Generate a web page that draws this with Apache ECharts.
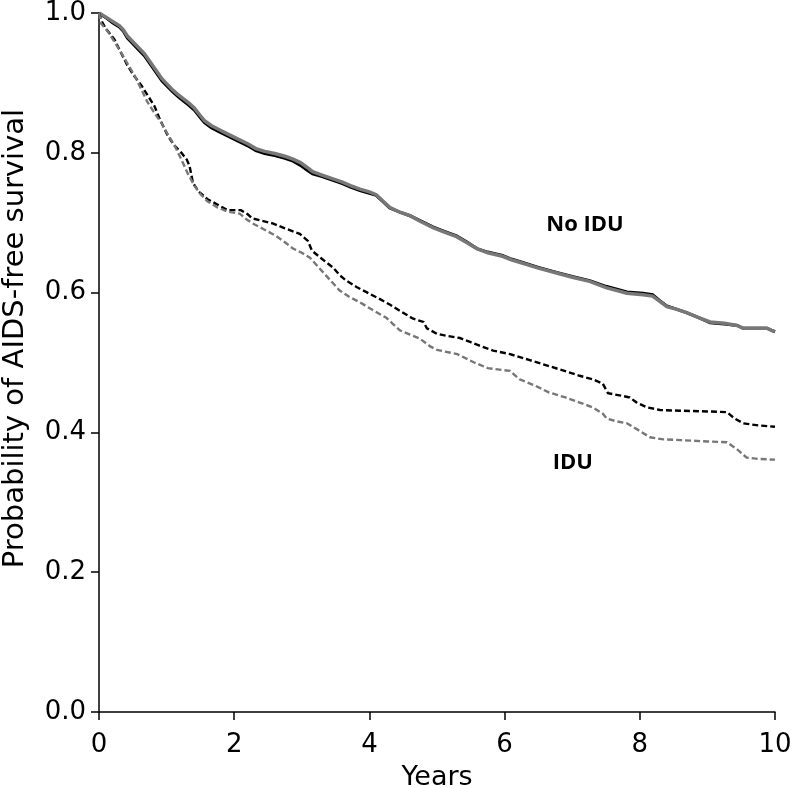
<!DOCTYPE html>
<html>
<head>
<meta charset="utf-8">
<script src="https://cdn.jsdelivr.net/npm/echarts@6/dist/echarts.min.js"></script>
<style>html,body{margin:0;padding:0;background:#fff;}#c{width:792px;height:788px;}</style>
</head>
<body>
<div id="c"></div>
<script>
// Years (x) and probability (y) pairs
const noIduBlack = [
[0,1.000],[0.04,0.997],[0.12,0.992],[0.2,0.986],[0.3,0.980],[0.36,0.974],[0.42,0.964],[0.5,0.956],[0.58,0.948],[0.67,0.939],
[0.75,0.928],[0.83,0.917],[0.93,0.903],[1.0,0.896],[1.08,0.888],[1.16,0.881],[1.25,0.874],[1.33,0.868],[1.41,0.861],[1.5,0.850],
[1.56,0.843],[1.66,0.836],[1.78,0.830],[1.9,0.824],[2.05,0.817],[2.2,0.810],[2.32,0.803],[2.45,0.799],[2.6,0.796],[2.75,0.792],
[2.87,0.788],[2.98,0.782],[3.08,0.775],[3.16,0.770],[3.3,0.766],[3.45,0.761],[3.6,0.756],[3.72,0.751],[3.86,0.746],[4.0,0.742],
[4.1,0.739],[4.2,0.730],[4.3,0.721],[4.45,0.715],[4.6,0.710],[4.75,0.703],[4.94,0.694],[5.1,0.688],[5.29,0.681],[5.45,0.672],
[5.59,0.663],[5.75,0.658],[5.97,0.653],[6.1,0.648],[6.27,0.643],[6.5,0.636],[6.77,0.629],[7.0,0.623],[7.26,0.617],[7.5,0.609],
[7.81,0.601],[8.05,0.599],[8.19,0.597],[8.3,0.588],[8.4,0.581],[8.55,0.576],[8.7,0.571],[8.88,0.564],[9.04,0.557],[9.25,0.555],
[9.44,0.553],[9.53,0.549],[9.88,0.549],[9.95,0.546],[10,0.544]
];
const noIduGray = [
[0,1.000],[0.04,0.998],[0.12,0.993],[0.2,0.988],[0.3,0.982],[0.36,0.976],[0.42,0.967],[0.5,0.959],[0.58,0.951],[0.67,0.942],
[0.75,0.931],[0.83,0.920],[0.93,0.906],[1.0,0.899],[1.08,0.891],[1.16,0.884],[1.25,0.877],[1.33,0.871],[1.41,0.864],[1.5,0.853],
[1.56,0.846],[1.66,0.839],[1.78,0.833],[1.9,0.827],[2.05,0.820],[2.2,0.813],[2.32,0.806],[2.45,0.802],[2.6,0.799],[2.75,0.795],
[2.87,0.791],[2.98,0.786],[3.08,0.779],[3.16,0.773],[3.3,0.768],[3.45,0.763],[3.6,0.758],[3.72,0.753],[3.86,0.748],[4.0,0.744],
[4.1,0.740],[4.2,0.731],[4.3,0.722],[4.45,0.715],[4.6,0.710],[4.75,0.702],[4.94,0.693],[5.1,0.687],[5.29,0.680],[5.45,0.671],
[5.59,0.663],[5.75,0.657],[5.97,0.652],[6.1,0.647],[6.27,0.642],[6.5,0.635],[6.77,0.628],[7.0,0.622],[7.26,0.616],[7.5,0.607],
[7.81,0.599],[8.05,0.597],[8.19,0.595],[8.3,0.587],[8.4,0.580],[8.55,0.576],[8.7,0.571],[8.88,0.564],[9.04,0.558],[9.25,0.556],
[9.44,0.553],[9.53,0.549],[9.88,0.549],[9.95,0.546],[10,0.544]
];
const iduBlack = [
[0,1.0],[0.03,0.990],[0.1,0.978],[0.18,0.968],[0.23,0.962],[0.3,0.948],[0.42,0.925],[0.52,0.910],[0.63,0.896],[0.72,0.882],
[0.82,0.867],[0.9,0.848],[1.01,0.826],[1.1,0.812],[1.22,0.800],[1.3,0.790],[1.34,0.781],[1.39,0.757],[1.47,0.745],[1.6,0.734],
[1.75,0.726],[1.9,0.718],[2.1,0.718],[2.2,0.712],[2.27,0.706],[2.4,0.703],[2.57,0.699],[2.75,0.692],[2.97,0.684],[3.09,0.674],
[3.15,0.660],[3.3,0.648],[3.46,0.636],[3.56,0.625],[3.66,0.617],[3.81,0.608],[3.95,0.601],[4.15,0.591],[4.3,0.583],[4.45,0.574],
[4.64,0.563],[4.8,0.558],[4.85,0.549],[5.0,0.541],[5.15,0.538],[5.34,0.535],[5.5,0.529],[5.63,0.524],[5.83,0.517],[6.08,0.512],
[6.35,0.504],[6.62,0.496],[6.85,0.489],[7.11,0.481],[7.3,0.476],[7.45,0.470],[7.53,0.456],[7.7,0.453],[7.85,0.450],[7.95,0.443],
[8.1,0.436],[8.3,0.432],[8.6,0.431],[9.0,0.430],[9.29,0.429],[9.4,0.420],[9.53,0.413],[9.75,0.410],[10,0.408]
];
const iduGray = [
[0,1.0],[0.03,0.985],[0.12,0.975],[0.22,0.960],[0.33,0.943],[0.43,0.926],[0.53,0.910],[0.62,0.892],[0.72,0.872],[0.82,0.857],
[0.92,0.843],[1.02,0.826],[1.12,0.810],[1.22,0.790],[1.31,0.771],[1.41,0.753],[1.5,0.741],[1.6,0.731],[1.75,0.722],[1.9,0.716],
[2.08,0.713],[2.18,0.705],[2.27,0.699],[2.45,0.690],[2.62,0.681],[2.75,0.672],[2.87,0.663],[3.0,0.657],[3.12,0.650],[3.25,0.636],
[3.4,0.620],[3.56,0.603],[3.7,0.594],[3.86,0.586],[4.05,0.575],[4.25,0.564],[4.35,0.555],[4.45,0.546],[4.6,0.540],[4.75,0.534],
[4.9,0.523],[5.0,0.518],[5.3,0.512],[5.55,0.500],[5.75,0.492],[6.08,0.488],[6.22,0.476],[6.45,0.467],[6.66,0.457],[6.9,0.450],
[7.1,0.443],[7.3,0.436],[7.45,0.427],[7.51,0.420],[7.65,0.416],[7.81,0.413],[8.0,0.402],[8.15,0.393],[8.35,0.390],[8.6,0.389],
[9.0,0.387],[9.29,0.386],[9.45,0.375],[9.58,0.364],[9.75,0.362],[10,0.361]
];
const xTicks = [0, 2, 4, 6, 8, 10];
const yTicks = [0.0, 0.2, 0.4, 0.6, 0.8, 1.0];
const labels = [
  {text: 'No IDU', x: 7.19, y: 0.697},
  {text: 'IDU', x: 7.01, y: 0.357}
];

const chart = echarts.init(document.getElementById('c'), null, {renderer: 'canvas'});
const FONT = 'DejaVu Sans';
function mk(data, color, width, dashed) {
  return {
    type: 'line', data: data, showSymbol: false, symbol: 'none',
    silent: true, animation: false,
    lineStyle: {color: color, width: width, type: dashed ? [6, 3] : 'solid', join: 'miter'}
  };
}
chart.setOption({
  animation: false,
  backgroundColor: '#fff',
  grid: {left: 99, right: 17, top: 13, bottom: 76, containLabel: false, outerBoundsMode: 'none'},
  xAxis: {
    type: 'value', min: xTicks[0], max: xTicks[xTicks.length - 1], interval: 2,
    axisLine: {lineStyle: {color: '#000', width: 1.5}},
    axisTick: {show: true, length: 8, lineStyle: {color: '#000', width: 1.5}},
    axisLabel: {color: '#000', fontFamily: FONT, fontSize: 26, margin: 20},
    splitLine: {show: false},
    name: 'Years', nameLocation: 'middle', nameGap: 52,
    nameTextStyle: {color: '#000', fontFamily: FONT, fontSize: 27}
  },
  yAxis: {
    type: 'value', min: yTicks[0], max: yTicks[yTicks.length - 1], interval: 0.2,
    axisLine: {show: true, lineStyle: {color: '#000', width: 1.5}},
    axisTick: {show: true, length: 8, lineStyle: {color: '#000', width: 1.5}},
    axisLabel: {color: '#000', fontFamily: FONT, fontSize: 26, margin: 13,
      formatter: v => v.toFixed(1)},
    splitLine: {show: false}
  },
  series: [
    mk(noIduBlack, '#000', 3, false),
    mk(noIduGray, '#777', 3.5, false),
    mk(iduBlack, '#000', 2.4, true),
    mk(iduGray, '#777', 2.4, true)
  ]
});

const g = labels.map(l => {
  const p = chart.convertToPixel({gridIndex: 0}, [l.x, l.y]);
  return {type: 'text', x: p[0], y: p[1], silent: true,
    style: {text: l.text, font: 'bold 22px "Open Sans"', fill: '#000', align: 'center', verticalAlign: 'middle'}};
});
const mid = chart.convertToPixel({gridIndex: 0}, [0, 0.5]);
g.push({type: 'text', x: 15, y: mid[1] - 24, rotation: Math.PI / 2, silent: true,
  style: {text: 'Probability of AIDS-free survival', font: '29px "DejaVu Sans"', fill: '#000', align: 'center', verticalAlign: 'middle'}});
chart.setOption({graphic: g});
</script>
</body>
</html>
